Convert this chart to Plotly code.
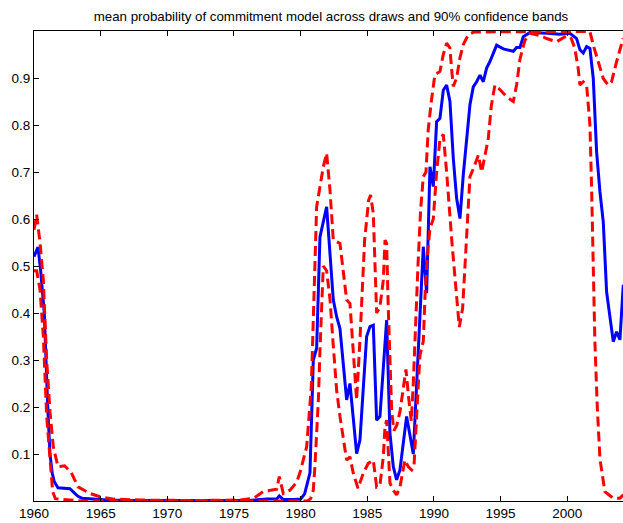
import plotly.graph_objects as go

# ---- data ----
mean_years = [1960.0, 1960.3, 1960.5, 1960.77, 1961.03, 1961.2, 1961.37, 1961.52, 1961.8, 1962.2,
              1962.7, 1963.0, 1963.3, 1963.6, 1964.5, 1965.5, 1967.0, 1970.0, 1976.0, 1977.5,
              1978.2, 1978.4, 1978.7, 1979.5, 1980.0, 1980.3, 1980.7, 1980.95, 1981.2, 1981.45,
              1981.95, 1982.45, 1982.7, 1982.95, 1983.45, 1983.7, 1984.2, 1984.45, 1984.95, 1985.2,
              1985.45, 1985.7, 1985.95, 1986.45, 1986.7, 1986.95, 1987.2, 1987.45, 1987.95, 1988.45,
              1988.7, 1989.2, 1989.45, 1989.7, 1989.95, 1990.2, 1990.45, 1990.7, 1990.95, 1991.2,
              1991.45, 1991.7, 1991.95, 1992.2, 1992.7, 1992.95, 1993.2, 1993.45, 1993.7, 1993.95,
              1994.2, 1994.7, 1995.2, 1995.95, 1996.2, 1996.45, 1996.7, 1997.2, 1998.5, 1999.45,
              2000.2, 2000.7, 2000.95, 2001.2, 2001.45, 2001.7, 2001.95, 2002.2, 2002.45, 2002.7,
              2002.95, 2003.2, 2003.45, 2003.7, 2003.95, 2004.2]
mean_vals = [0.52, 0.54, 0.49, 0.40, 0.20, 0.10, 0.059, 0.041, 0.028, 0.027,
             0.026, 0.018, 0.010, 0.006, 0.004, 0.002, 0.001, 0.0005, 0.001, 0.004,
             0.004, 0.011, 0.003, 0.003, 0.004, 0.015, 0.06, 0.30, 0.325, 0.562,
             0.626, 0.428, 0.392, 0.367, 0.215, 0.25, 0.101, 0.13, 0.35, 0.371,
             0.374, 0.172, 0.18, 0.385, 0.144, 0.073, 0.045, 0.066, 0.18, 0.10,
             0.257, 0.541, 0.442, 0.711, 0.669, 0.807, 0.814, 0.874, 0.885, 0.85,
             0.729, 0.644, 0.601, 0.694, 0.843, 0.881, 0.892, 0.906, 0.892, 0.921,
             0.935, 0.97, 0.962, 0.957, 0.965, 0.965, 0.988, 0.997, 0.995, 0.993,
             0.995, 0.984, 0.96, 0.953, 0.967, 0.963, 0.899, 0.743, 0.658, 0.594,
             0.445, 0.396, 0.339, 0.36, 0.343, 0.46]

lower_years = [1960.0, 1960.2, 1960.45, 1960.7, 1960.95, 1961.2, 1961.4, 1961.6, 1962.5, 1963.5,
               1970.0, 1980.5, 1980.75, 1980.95, 1981.07, 1981.33, 1981.45, 1981.57, 1981.7, 1981.95,
               1982.2, 1982.45, 1982.7, 1982.95, 1983.2, 1983.45, 1983.7, 1983.95, 1984.3, 1984.7,
               1985.07, 1985.45, 1985.7, 1985.95, 1986.2, 1986.33, 1986.45, 1986.57, 1986.7, 1986.95,
               1987.2, 1987.45, 1987.82, 1988.07, 1988.33, 1988.5, 1988.6, 1988.7, 1988.85, 1988.95,
               1989.2, 1989.35, 1989.5, 1989.7, 1989.95, 1990.2, 1990.45, 1990.7, 1990.95, 1991.35,
               1991.65, 1991.9, 1992.15, 1992.45, 1992.7, 1993.0, 1993.33, 1993.58, 1993.8, 1994.07,
               1994.3, 1994.57, 1995.0, 1995.45, 1995.95, 1996.2, 1996.45, 1996.82, 1997.2, 1998.0,
               1998.45, 1999.2, 1999.95, 2000.3, 2000.57, 2000.82, 2000.95, 2001.2, 2001.45, 2001.7,
               2001.83, 2001.95, 2002.07, 2002.25, 2002.45, 2002.82, 2003.45, 2003.95, 2004.2]
lower_vals = [0.49, 0.49, 0.45, 0.35, 0.18, 0.08, 0.02, 0.005, 0.002, 0.0,
              0.0, 0.0, 0.005, 0.023, 0.073, 0.215, 0.32, 0.43, 0.50, 0.49,
              0.43, 0.33, 0.236, 0.18, 0.13, 0.087, 0.094, 0.059, 0.027, 0.059,
              0.08, 0.087, 0.03, 0.034, 0.094, 0.158, 0.172, 0.10, 0.038, 0.023,
              0.013, 0.03, 0.087, 0.073, 0.066, 0.073, 0.13, 0.20, 0.26, 0.31,
              0.34, 0.45, 0.52, 0.58, 0.60, 0.70, 0.77, 0.78, 0.70, 0.55,
              0.45, 0.37, 0.41, 0.55, 0.69, 0.71, 0.736, 0.70, 0.73, 0.77,
              0.84, 0.885, 0.874, 0.86, 0.85, 0.885, 0.94, 0.98, 0.995, 0.99,
              0.984, 0.977, 0.99, 0.984, 0.963, 0.92, 0.885, 0.892, 0.885, 0.80,
              0.66, 0.52, 0.34, 0.20, 0.09, 0.02, 0.006, 0.006, 0.013]

upper_years = [1960.0, 1960.2, 1960.45, 1960.7, 1960.95, 1961.2, 1961.45, 1961.8, 1962.3, 1962.8,
               1963.3, 1964.2, 1964.95, 1966.0, 1968.0, 1972.0, 1975.5, 1976.5, 1977.2, 1977.7,
               1978.2, 1978.4, 1978.7, 1979.2, 1979.7, 1979.95, 1980.45, 1980.8, 1981.05, 1981.2,
               1981.7, 1981.95, 1982.2, 1982.45, 1982.95, 1983.2, 1983.45, 1983.7, 1983.95, 1984.2,
               1984.45, 1984.8, 1985.1, 1985.25, 1985.45, 1985.57, 1985.7, 1985.95, 1986.2, 1986.33,
               1986.45, 1986.57, 1986.7, 1986.83, 1987.0, 1987.2, 1987.45, 1987.7, 1987.9, 1988.1,
               1988.3, 1988.45, 1988.6, 1988.8, 1989.0, 1989.2, 1989.4, 1989.57, 1989.8, 1990.07,
               1990.45, 1990.7, 1990.95, 1991.2, 1991.32, 1991.45, 1991.7, 1991.95, 1992.2, 1992.57,
               1993.0, 1995.0, 1998.0, 2001.7, 2001.95, 2002.32, 2002.7, 2003.07, 2003.32, 2003.7,
               2004.07, 2004.2]
upper_vals = [0.577, 0.609, 0.55, 0.47, 0.30, 0.19, 0.115, 0.073, 0.075, 0.06,
              0.03, 0.016, 0.009, 0.004, 0.002, 0.001, 0.002, 0.006, 0.02, 0.023,
              0.025, 0.052, 0.016, 0.023, 0.04, 0.06, 0.115, 0.243, 0.47, 0.626,
              0.711, 0.74, 0.662, 0.555, 0.548, 0.484, 0.428, 0.42, 0.307, 0.215,
              0.343, 0.555, 0.64, 0.651, 0.612, 0.484, 0.40, 0.413, 0.47, 0.555,
              0.548, 0.413, 0.272, 0.19, 0.15, 0.16, 0.19, 0.24, 0.28, 0.22,
              0.17, 0.25, 0.37, 0.50, 0.62, 0.69, 0.70, 0.79, 0.85, 0.907,
              0.914, 0.95, 0.974, 0.964, 0.92, 0.882, 0.90, 0.943, 0.971, 0.992,
              0.998, 0.998, 0.998, 0.999, 0.97, 0.935, 0.899, 0.885, 0.892, 0.935,
              0.97, 0.985]

x_tick_vals = [1960, 1965, 1970, 1975, 1980, 1985, 1990, 1995, 2000]
x_tick_text = ["1960", "1965", "1970", "1975", "1980", "1985", "1990", "1995", "2000"]
y_tick_vals = [0.1, 0.2, 0.3, 0.4, 0.5, 0.6, 0.7, 0.8, 0.9]
y_tick_text = ["0.1", "0.2", "0.3", "0.4", "0.5", "0.6", "0.7", "0.8", "0.9"]

title_text = "mean probability of commitment model across draws and 90% confidence bands"

assert len(mean_years) == len(mean_vals)
assert len(lower_years) == len(lower_vals)
assert len(upper_years) == len(upper_vals)

FONT = "Liberation Sans, Arial, Helvetica, sans-serif"

fig = go.Figure()
fig.add_trace(go.Scatter(x=mean_years, y=mean_vals, mode="lines",
                         line=dict(color="#0000ff", width=3)))
fig.add_trace(go.Scatter(x=lower_years, y=lower_vals, mode="lines",
                         line=dict(color="#ff0000", width=3, dash="10px,5px")))
fig.add_trace(go.Scatter(x=upper_years, y=upper_vals, mode="lines",
                         line=dict(color="#ff0000", width=3, dash="10px,5px")))

fig.update_layout(
    width=623, height=523,
    margin=dict(l=34, r=0, t=31, b=22, autoexpand=False),
    paper_bgcolor="white", plot_bgcolor="white",
    showlegend=False,
    title=dict(text=title_text, xref="container", x=331 / 623, xanchor="center",
               yref="container", y=1 - 16.5 / 523, yanchor="middle",
               font=dict(family=FONT, size=13.3, color="#000000")),
)
fig.update_xaxes(range=[1960, 2004.18], tickmode="array", tickvals=x_tick_vals, ticktext=x_tick_text,
                 ticks="inside", ticklen=5, tickwidth=1, tickcolor="black",
                 showline=True, linecolor="black", linewidth=1, mirror="ticks",
                 showgrid=False, zeroline=False, automargin=False,
                 tickfont=dict(family=FONT, size=13.5, color="#000000"))
fig.update_yaxes(range=[0, 1], tickmode="array", tickvals=y_tick_vals, ticktext=y_tick_text,
                 ticks="inside", ticklen=5, tickwidth=1, tickcolor="black",
                 showline=True, linecolor="black", linewidth=1, mirror=False,
                 showgrid=False, zeroline=False, automargin=False,
                 tickfont=dict(family=FONT, size=13.5, color="#000000"))

fig.write_html("out.html",
               config={"displayModeBar": False, "staticPlot": True},
               post_script="document.body.style.margin='0';document.body.style.overflow='hidden';")
